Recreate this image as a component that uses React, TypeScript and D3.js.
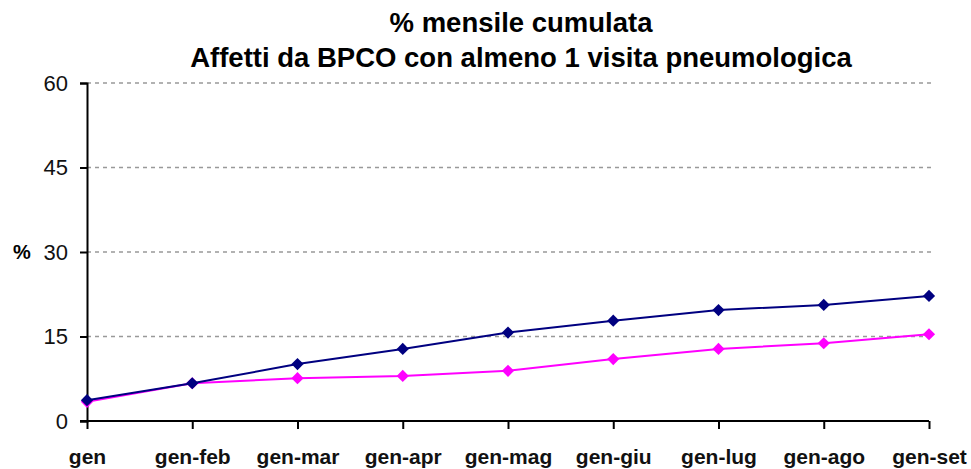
import React, { useEffect, useRef } from 'react';
import * as d3 from 'd3';

const categories = ['gen', 'gen-feb', 'gen-mar', 'gen-apr', 'gen-mag', 'gen-giu', 'gen-lug', 'gen-ago', 'gen-set'];
const seriesNavy = [3.7, 6.7, 10.1, 12.8, 15.7, 17.8, 19.7, 20.6, 22.2];
const seriesPink = [3.4, 6.7, 7.6, 8.0, 8.9, 11.0, 12.8, 13.8, 15.4];
const yTicks = [0, 15, 30, 45, 60];
const titleLines = ['% mensile cumulata', 'Affetti da BPCO con almeno 1 visita pneumologica'];

const W = 971;
const H = 469;

const App = () => {
  const svgRef = useRef<SVGSVGElement>(null);

  useEffect(() => {
    const svg = d3.select(svgRef.current);
    svg.selectAll('*').remove();
    const margin = { top: 83, right: 42, bottom: 48, left: 87 };
    const font = 'Arial, "Liberation Sans", sans-serif';

    const x = d3
      .scalePoint<string>()
      .domain(categories)
      .range([margin.left, W - margin.right]);

    const y = d3
      .scaleLinear()
      .domain([0, 60])
      .range([H - margin.bottom, margin.top]);

    // title
    svg
      .append('g')
      .selectAll('text')
      .data(titleLines)
      .join('text')
      .attr('x', 521)
      .attr('y', (d, i) => 32 + i * 35)
      .attr('text-anchor', 'middle')
      .attr('font-family', font)
      .attr('font-weight', 'bold')
      .attr('font-size', 27.5)
      .attr('fill', '#000')
      .text((d) => d);

    // gridlines
    svg
      .append('g')
      .selectAll('line')
      .data(yTicks.filter((t) => t > 0))
      .join('line')
      .attr('x1', margin.left)
      .attr('x2', W - margin.right + 6)
      .attr('y1', (d) => y(d))
      .attr('y2', (d) => y(d))
      .attr('stroke', '#999')
      .attr('stroke-width', 1.5)
      .attr('stroke-dasharray', '4,4');

    // y axis
    const yAxis = svg
      .append('g')
      .attr('transform', `translate(${margin.left},0)`)
      .call(d3.axisLeft(y).tickValues(yTicks).tickSize(7).tickPadding(12));
    yAxis.select('.domain').attr('stroke', '#000').attr('stroke-width', 2);
    yAxis.selectAll('.tick line').attr('stroke', '#000').attr('stroke-width', 2);
    yAxis
      .selectAll('.tick text')
      .attr('font-family', font)
      .attr('font-size', 22)
      .attr('fill', '#111');

    // x axis
    const xAxis = svg
      .append('g')
      .attr('transform', `translate(0,${y(0)})`)
      .call(d3.axisBottom(x).tickSize(8).tickPadding(20));
    xAxis.select('.domain').attr('stroke', '#000').attr('stroke-width', 2).attr('d', `M${margin.left - 7},0H${W - margin.right}`);
    xAxis.selectAll('.tick line').attr('stroke', '#000').attr('stroke-width', 2);
    xAxis
      .selectAll('.tick text')
      .attr('font-family', font)
      .attr('font-size', 21)
      .attr('font-weight', 'bold')
      .attr('fill', '#111');

    // y label
    svg
      .append('text')
      .attr('x', 22)
      .attr('y', y(30))
      .attr('dy', '0.35em')
      .attr('text-anchor', 'middle')
      .attr('font-family', font)
      .attr('font-size', 20)
      .attr('font-weight', 'bold')
      .text('%');

    const line = d3
      .line<number>()
      .x((d, i) => x(categories[i]) as number)
      .y((d) => y(d));

    const diamond = d3.symbol().type(d3.symbolDiamond2).size(95);

    [
      { values: seriesPink, color: '#ff00ff' },
      { values: seriesNavy, color: '#000080' },
    ].forEach(({ values, color }) => {
      svg
        .append('path')
        .datum(values)
        .attr('fill', 'none')
        .attr('stroke', color)
        .attr('stroke-width', 2)
        .attr('d', line);
      svg
        .append('g')
        .selectAll('path')
        .data(values)
        .join('path')
        .attr('transform', (d, i) => `translate(${x(categories[i])},${y(d)})`)
        .attr('d', diamond)
        .attr('fill', color);
    });
  }, []);

  return (
    <div style={{ position: 'fixed', left: 0, top: 0, background: '#fff' }}>
      <svg ref={svgRef} width={W} height={H} style={{ display: 'block' }}></svg>
    </div>
  );
};

export default App;
